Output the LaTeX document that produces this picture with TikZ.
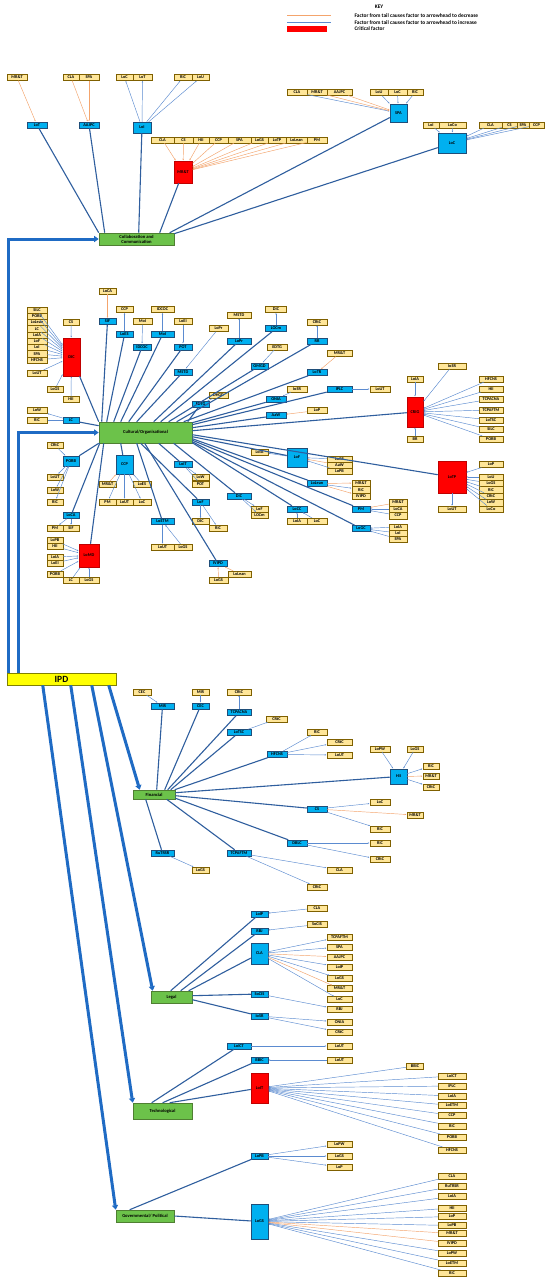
\documentclass[tikz,border=0pt]{standalone}
\usepackage{fontspec}
\setmainfont{Carlito}
\usetikzlibrary{arrows.meta}
\definecolor{tanf}{HTML}{FFE699}
\definecolor{tand}{HTML}{7F6000}
\definecolor{bluef}{HTML}{00B0F0}
\definecolor{blued}{HTML}{1F4E79}
\definecolor{redf}{HTML}{FF0000}
\definecolor{redd}{HTML}{C00000}
\definecolor{greenf}{HTML}{6CC24A}
\definecolor{greend}{HTML}{4F7F32}
\definecolor{ipdf}{HTML}{FFFF00}
\definecolor{ipdd}{HTML}{808000}
\definecolor{thk}{HTML}{2F5E9E}
\definecolor{thn}{HTML}{5B8BD0}
\definecolor{orn}{HTML}{F4A46C}
\definecolor{ipdl}{HTML}{1F6BC4}
\newcommand\tf{\fontsize{4.3}{4.5}\selectfont\bfseries}
\newcommand\gf{\fontsize{4.6}{5}\selectfont\bfseries}
\newcommand\kf{\fontsize{5.4}{6}\selectfont\bfseries}
\newcommand\mkT[5]{\node[tanb,minimum width=#4pt] (#1) at (#2,#3) {#5};}
\newcommand\mkB[5]{\node[blueb,minimum width=#4pt] (#1) at (#2,#3) {#5};}
\newcommand\mkBB[6]{\node[blueb,minimum width=#4pt,minimum height=#5pt] (#1) at (#2,#3) {#6};}
\newcommand\mkR[6]{\node[redb,minimum width=#4pt,minimum height=#5pt] (#1) at (#2,#3) {#6};}
\newcommand\cnb[2]{\draw[bll] (#1) -- (#2);}
\newcommand\cno[2]{\draw[orl] (#1) -- (#2);}
\tikzset{
  tanb/.style={draw=tand, fill=tanf, line width=0.5pt, minimum height=5.6pt, inner sep=0pt, font=\tf},
  blueb/.style={draw=blued, fill=bluef, line width=0.5pt, minimum height=6pt, inner sep=0pt, font=\tf},
  redb/.style={draw=redd, fill=redf, line width=0.5pt, inner sep=0pt, font=\tf},
  grp/.style={draw=greend, fill=greenf, line width=0.6pt, inner sep=0pt, font=\gf, align=center},
  bll/.style={draw=thn, line width=0.45pt, -{Stealth[length=1.6pt,width=1.3pt]}, shorten >=0.4pt},
  orl/.style={draw=orn, line width=0.45pt, -{Stealth[length=1.6pt,width=1.3pt]}, shorten >=0.4pt},
  thkl/.style={draw=thk, line width=1.1pt},
  ipa/.style={draw=ipdl, line width=3pt, -{Triangle[length=4.5pt,width=6pt]}},
}
\begin{document}
\begin{tikzpicture}[x=1pt,y=-1pt]
\useasboundingbox (0,0) rectangle (550,1282);
\fill[white] (0,0) rectangle (550,1282);

% ---------------- KEY
\node[font=\kf] (key) at (379,7) {KEY};
\coordinate (ko1) at (287,15); \coordinate (ko2) at (331,15);
\coordinate (kb1) at (287,22); \coordinate (kb2) at (331,22);
\draw[draw=orn, line width=0.8pt] (ko1) -- (ko2);
\draw[draw=thn, line width=0.8pt] (kb1) -- (kb2);
\fill[redf] (287,26) rectangle (327,32);
\node[anchor=west, font=\kf] (kt1) at (351,15.5) {Factor from tail causes factor to arrowhead to decrease};
\node[anchor=west, font=\kf] (kt2) at (351,22.5) {Factor from tail causes factor to arrowhead to increase};
\node[anchor=west, font=\kf] (kt3) at (351,29) {Critical factor};

% ---------------- Collaboration and Communication
\mkT{aMRT}{17}{77.5}{20}{MR\&T}
\mkT{aCLA}{71}{77.5}{16}{CLA}
\mkT{aSPA}{89}{77.5}{20}{SPA}
\mkT{aLoC}{124.5}{77.5}{17}{LoC}
\mkT{aLoT}{142.5}{77.5}{19}{LoT}
\mkT{aRiC}{183}{77.5}{18}{RiC}
\mkT{aLoU}{200.5}{77.5}{17}{LoU}
\mkB{bLoT}{37}{125}{20}{LoT}
\mkB{bAAJPC}{89}{125}{20}{AAJPC}
\mkBB{bLoI}{142}{127.5}{18}{11}{LoI}
\foreach \n/\x/\w/\t in {r1/162.5/23/CLA, r2/183.5/19/CS, r3/201/16/HII, r4/218.5/19/CCP, r5/239.5/23/SPA, r6/259.5/17/LoGS, r7/277/18/LoTP, r8/296.5/21/LoLean, r9/317/20/PM} {\mkT{\n}{\x}{140}{\w}{\t}}
\mkR{rMRT}{183}{172}{18}{22}{MR\&T}
\node[grp, minimum width=75pt, minimum height=12pt] (cc) at (136.5,239) {Collaboration and\\Communication};
\mkT{sCLA}{297}{92.5}{20}{CLA}
\mkT{sMRT}{317}{92.5}{20}{MR\&T}
\mkT{sAAJPC}{339.5}{92.5}{25}{AAJPC}
\mkT{sLoU}{379}{92.5}{18}{LoU}
\mkT{sLoC}{397.5}{92.5}{19}{LoC}
\mkT{sRiC}{415}{92.5}{16}{RiC}
\mkBB{bSPA}{398.5}{113}{17}{18}{SPA}
\mkT{kLoI}{431}{125}{16}{LoI}
\mkT{kLoCo}{452.5}{125}{27}{LoCo}
\mkT{kCLA}{490.5}{125}{23}{CLA}
\mkT{kCS}{509.5}{125}{15}{CS}
\mkT{kSPA}{523}{125}{12}{SPA}
\mkT{kCCP}{536.5}{125}{15}{CCP}
\mkBB{bLoC}{452}{143}{28}{20}{LoC}

\cno{aMRT}{bLoT} \cno{aCLA}{bAAJPC} \cno{aSPA}{bAAJPC}
\foreach \t in {aLoC,aLoT,aRiC,aLoU} {\cnb{bLoI}{\t}}
\foreach \t in {r1,r2,r3,r4,r5,r6,r7,r8,r9} {\cno{\t}{rMRT}}
\cnb{sCLA}{bSPA} \cno{sMRT}{bSPA} \cno{sAAJPC}{bSPA}
\cnb{sLoU}{bSPA} \cnb{sLoC}{bSPA} \cnb{sRiC}{bSPA}
\foreach \t in {kLoI,kLoCo,kCLA,kCS,kSPA,kCCP} {\cnb{\t}{bLoC}}
\foreach \t/\d in {bLoT/0, bAAJPC/6, bLoI/40, rMRT/61, bSPA/71} {\draw[thkl] ([xshift=\d pt]cc.north west) -- (\t);}
\draw[thkl] ([yshift=-1pt]cc.north east) -- (bLoC);

% ---------------- Cultural/Organisational
\node[grp, minimum width=93pt, minimum height=21pt] (cult) at (145.5,432.5) {Cultural/Organisational};
\foreach \n/\y/\t in {ls1/310.1/SILC, ls2/316.3/PORB, ls3/322.6/LoLean, ls4/328.8/LC, ls5/335.0/LoIA, ls6/341.2/LoF, ls7/347.4/LoI, ls8/353.7/SPA, ls9/359.9/HFCNS} {\node[tanb,minimum width=20pt,minimum height=6.2pt] (\n) at (37,\y) {\t};}
\mkT{cLoUT}{37}{373}{20}{LoUT}
\mkT{cCS}{71}{322}{16}{CS}
\mkR{rDIC}{71.5}{357}{17}{38}{DIC}
\mkT{cLoGS}{55}{389}{16}{LoGS}
\mkT{cHII}{71}{399.5}{16}{HII}
\mkT{cLoW}{37}{410.5}{20}{LoW}
\mkT{cRiC}{37}{420.5}{20}{RiC}
\mkB{bLC}{71}{420.5}{16}{LC}
\mkT{cLoCA}{107.5}{291}{17}{LoCA}
\mkB{bSIF}{107.5}{321.5}{17}{SIF}
\mkT{cCCP}{124.5}{309.5}{17}{CCP}
\mkB{bLoES}{124.5}{334.5}{17}{LoES}
\mkT{cMoI}{142.5}{321.5}{19}{MoI}
\mkB{bIDCOC}{142}{347}{18}{IDCOC}
\mkT{cIDCOC}{162.5}{309.5}{23}{IDCOC}
\mkB{bMoI}{162.5}{334.5}{23}{MoI}
\mkT{cLoEI}{183}{321.5}{18}{LoEI}
\mkB{bPOT}{183}{347}{18}{POT}
\mkT{cLoPr}{218.5}{328.5}{19}{LoPr}
\mkB{bMSTD}{183}{372}{18}{MSTD}
\mkT{cMSTD}{239}{315}{24}{MSTD}
\mkB{bLoPr}{239}{341}{24}{LoPr}
\mkT{cDIC}{276}{309.5}{21}{DIC}
\mkB{bLOCm}{276}{328.5}{21}{LOCm}
\mkT{cEDTG}{277}{347}{20}{EDTG}
\mkB{bOMGD}{259.5}{366}{17}{OMGD}
\mkT{cCRtC}{317}{322}{20}{CRtC}
\mkB{bRR}{317}{341}{20}{RR}
\mkT{cMRT}{339.5}{353.5}{25}{MR\&T}
\mkB{bLoTR}{317}{372.5}{20}{LoTR}
\mkT{cDHGD}{218.5}{395.5}{19}{DHGD}
\mkB{bEDTG}{200.5}{404.5}{17}{EDTG}
\mkT{cIoSR}{297}{389}{20}{IoSR}
\mkB{bONIA}{276}{399.5}{20}{ONIA}
\mkB{bIPLC}{339.5}{389}{25}{IPLC}
\mkT{cLoUTb}{380}{389}{20}{LoUT}
\mkB{bAaW}{276}{415.5}{20}{AaW}
\mkT{cLoP}{317}{410.5}{20}{LoP}
\mkR{rCRIG}{415}{412}{16}{30}{CRIG}
\mkT{cLoIA}{415}{379}{16}{LoIA}
\mkT{cIoSRb}{452}{366}{28}{IoSR}
\mkT{cBR}{415}{439.5}{16}{BR}
\foreach \n/\y/\t in {g1/379/HFCNS, g2/389/HII, g3/399/TCPACNA, g4/410/TCPAFTM, g5/420/LoTSC, g6/429.5/SILC, g7/439/PORB} {\mkT{\n}{491}{\y}{24}{\t}}
\mkR{rLoTP}{452}{477}{28}{32}{LoTP}
\mkT{cLoP2}{491}{464.5}{24}{LoP}
\foreach \n/\y/\t in {h1/477/LoU, h2/483.4/LoGS, h3/489.8/RiC, h4/496.2/CRtC, h5/502.6/LoW, h6/509/LoCo} {\node[tanb,minimum width=24pt,minimum height=6.4pt] (\n) at (491,\y) {\t};}
\mkT{cLoUT3}{452}{509}{28}{LoUT}
\mkBB{bLoF}{297}{457.5}{20}{19}{LoF}
\foreach \n/\y/\t in {f1/459/LoGS, f2/465/AaW, f3/471/LoPB} {\node[tanb,minimum width=25pt,minimum height=6pt] (\n) at (339.5,\y) {\t};}
\mkT{cLoIA2}{259.5}{452}{17}{LoIA}
\mkB{bLoLean}{317}{483.5}{20}{LoLean}
\foreach \n/\y/\t in {e1/483/MR\&T, e2/489.5/RiC, e3/496/IVIPD} {\node[tanb,minimum width=18pt,minimum height=6.5pt] (\n) at (361,\y) {\t};}
\mkB{bPM}{361}{509}{18}{PM}
\foreach \n/\y/\t in {p1/502.5/MR\&T, p2/509/LoCA, p3/515.5/CCP} {\node[tanb,minimum width=18pt,minimum height=6.5pt] (\n) at (398,\y) {\t};}
\mkB{bLoGC}{361}{528.5}{18}{LoGC}
\foreach \n/\y/\t in {q1/527/LoIA, q2/533/LoI, q3/539/SPA} {\node[tanb,minimum width=18pt,minimum height=6pt] (\n) at (398,\y) {\t};}
\mkB{bLoCC}{297}{509}{20}{LoCC}
\mkT{cLoIA4}{297}{521}{20}{LoIA}
\mkT{cLoC4}{317}{521}{20}{LoC}
% lower-left
\mkT{cCRtC2}{55}{445.5}{16}{CRtC}
\mkBB{bPORB}{71}{461}{16}{10}{PORB}
\mkT{cLoUT2}{55}{477}{16}{LoUT}
\mkT{cLoW2}{55}{490}{16}{LoW}
\mkT{cRiC2}{55}{502}{16}{RiC}
\mkB{bLoCA}{71}{515.5}{16}{LoCA}
\mkT{cPM}{55}{528}{16}{PM}
\mkT{cSIF}{71}{528}{16}{SIF}
\mkR{rLoMD}{89}{555.5}{20}{23}{LoMD}
\foreach \n/\y/\t in {m1/540.5/LoPB, m2/546.5/HII, m3/557/LoIA, m4/563/LoEI, m5/574/PORB} {\node[tanb,minimum width=16pt,minimum height=6pt] (\n) at (55,\y) {\t};}
\mkT{cLC}{71}{580}{16}{LC}
\mkT{cLoGS3}{89}{580}{20}{LoGS}
\mkBB{bCCP}{124.5}{464.5}{17}{19}{CCP}
\mkT{cMRT3}{107.5}{484}{17}{MR\&T}
\mkT{cLoES}{142}{484}{18}{LoES}
\mkT{cPM2}{107.5}{502}{17}{PM}
\mkT{cLoUT4}{124.5}{502}{17}{LoUT}
\mkT{cLoC2}{142}{502}{18}{LoC}
\mkB{bLoIT}{183}{464.5}{18}{LoIT}
\mkT{cLoW3}{200.5}{477.5}{17}{LoW}
\mkT{cPOT}{200.5}{484}{17}{POT}
\mkB{bLoF2}{200.5}{502}{17}{LoF}
\mkT{cDIC2}{200.5}{521.5}{17}{DIC}
\mkT{cRiC5}{218}{528}{18}{RiC}
\mkB{bDIC}{239}{496}{24}{DIC}
\mkT{cLoF5}{259.5}{509}{17}{LoF}
\mkT{cLOCm}{259.5}{515.2}{17}{LOCm}
\mkB{bLoETM}{162.5}{521.5}{23}{LoETM}
\mkT{cLoUT6}{162.5}{547}{23}{LoUT}
\mkT{cLoGS6}{183}{547}{18}{LoGS}
\mkB{bIVIPD}{218}{563.5}{18}{IVIPD}
\mkT{cLoGS7}{218.5}{580}{19}{LoGS}
\mkT{cLoLean}{239.5}{574}{23}{LoLean}

\foreach \t in {ls1,ls2,ls3,ls4,ls5,ls6,ls7,ls8,ls9,cLoUT,cCS,cLoGS,cHII} {\cnb{\t}{rDIC}}
\cnb{bLC}{cLoW} \cnb{bLC}{cRiC}
\cno{cLoCA}{bSIF} \cnb{bLoES}{cCCP} \cnb{cMoI}{bIDCOC} \cnb{bMoI}{cIDCOC}
\cnb{cLoEI}{bPOT} \cnb{cLoPr}{bMSTD} \cnb{bLoPr}{cMSTD} \cnb{bLOCm}{cDIC}
\cnb{cEDTG}{bOMGD} \cnb{bRR}{cCRtC} \cno{cMRT}{bLoTR} \cnb{cDHGD}{bEDTG}
\cnb{cIoSR}{bONIA} \cnb{bIPLC}{cLoUTb} \cno{cLoP}{bAaW}
\foreach \t in {cLoIA,cIoSRb,cBR,g1,g2,g3,g4,g5,g6,g7} {\cnb{\t}{rCRIG}}
\foreach \t in {cLoP2,h1,h2,h3,h4,h5,h6} {\cnb{\t}{rLoTP}}
\cnb{rLoTP}{cLoUT3}
\cnb{f1}{bLoF} \cno{f2}{bLoF} \cnb{f3}{bLoF} \cnb{bLoF}{cLoIA2}
\cno{bLoLean}{e1} \cnb{bLoLean}{e2} \cno{bLoLean}{e3}
\cno{p1}{bPM} \cnb{p2}{bPM} \cnb{p3}{bPM}
\foreach \t in {q1,q2,q3} {\cnb{\t}{bLoGC}}
\cnb{cLoIA4}{bLoCC} \cnb{cLoC4}{bLoCC}
\cnb{cCRtC2}{bPORB} \cnb{bPORB}{cLoUT2} \cnb{bPORB}{cLoW2} \cnb{bPORB}{cRiC2}
\cnb{bLoCA}{cPM} \cnb{bLoCA}{cSIF}
\foreach \t in {m1,m2,m3,m4,m5,cLC,cLoGS3} {\cnb{\t}{rLoMD}}
\cno{cMRT3}{bCCP} \cnb{cLoES}{bCCP}
\cnb{bCCP}{cPM2} \cnb{bCCP}{cLoUT4} \cnb{bCCP}{cLoC2}
\cnb{bLoIT}{cLoW3} \cnb{bLoIT}{cPOT}
\cnb{bLoF2}{cDIC2} \cnb{bLoF2}{cRiC5}
\cnb{bDIC}{cLoF5} \cnb{bDIC}{cLOCm}
\cnb{bLoETM}{cLoUT6} \cnb{cLoGS6}{bLoETM}
\cno{cLoGS7}{bIVIPD} \cno{cLoLean}{bIVIPD}
\foreach \t/\d in {rDIC/0, bSIF/3, bLoES/8, bIDCOC/15, bMoI/22, bPOT/30, bMSTD/38, bLoPr/55, bLOCm/62, bOMGD/70, bRR/78, bLoTR/85, bEDTG/89} {\draw[thkl] ([xshift=\d pt]cult.north west) -- (\t);}
\foreach \t/\d in {bONIA/1, bIPLC/3, bAaW/6, rCRIG/9, rLoTP/13, bLoF/15, bLoLean/17, bPM/18.5, bLoGC/20, bLoCC/21} {\draw[thkl] ([yshift=-\d pt]cult.north east) -- (\t);}
\foreach \t/\d in {bPORB/0, bLoCA/1, rLoMD/5, bCCP/22, bLoETM/38, bLoF2/42, bIVIPD/46, bLoIT/60, bDIC/75} {\draw[thkl] ([xshift=\d pt]cult.south west) -- (\t);}
\draw[thkl] ([yshift=-4pt]cult.north west) -- (bLC);

% ---------------- IPD
\node[draw=ipdd, fill=ipdf, line width=0.5pt, minimum width=109pt, minimum height=12pt, inner sep=0pt, font=\fontsize{9.5}{10}\selectfont\bfseries] (ipd) at (61.5,679) {IPD};

% ---------------- Financial
\node[grp, minimum width=42pt, minimum height=9pt] (fin) at (154,794.5) {Financial};
\mkT{fCEC}{142}{692}{18}{CEC}
\mkT{fMIR}{200.5}{692}{17}{MIR}
\mkT{fCRtC}{239}{692}{24}{CRtC}
\mkB{bMIR}{162.5}{706}{23}{MIR}
\mkB{bCEC}{200.5}{706}{17}{CEC}
\mkB{bTCPACNA}{239}{712.5}{24}{TCPACNA}
\mkT{fCRtC2}{276.5}{719}{21}{CRtC}
\mkB{bLoTSC}{239}{732.5}{24}{LoTSC}
\mkB{bHFCNS}{277}{754.5}{20}{HFCNS}
\mkT{fRiC}{317}{732}{20}{RiC}
\mkT{fCRtC3}{339.5}{742}{25}{CRtC}
\mkT{fLoUT}{339.5}{755}{25}{LoUT}
\mkT{fLoPW}{380}{749}{20}{LoPW}
\mkT{fLoGS}{415}{749}{16}{LoGS}
\mkBB{bHII}{398.5}{776.5}{17}{15}{HII}
\mkT{fRiC2}{431}{766}{16}{RiC}
\mkT{fMRT}{431}{776}{16}{MR\&T}
\mkT{fCRtC4}{431}{787}{16}{CRtC}
\mkB{bCS}{317}{809}{20}{CS}
\mkT{fLoC}{380}{802.5}{20}{LoC}
\mkT{fMRT2}{415}{815}{16}{MR\&T}
\mkT{fRiC3}{380}{829}{20}{RiC}
\mkB{bDBLC}{297}{843}{20}{DBLC}
\mkT{fRiC4}{380}{843}{20}{RiC}
\mkT{fCRtC5}{380}{859.5}{20}{CRtC}
\mkB{bTCPAFTM}{239}{853}{24}{TCPAFTM}
\mkT{fCLA}{339.5}{870}{25}{CLA}
\mkT{fCRtC6}{317}{887}{20}{CRtC}
\mkB{bRuTRSR}{162.5}{853}{23}{RuTRSR}
\mkT{fLoGS2}{200.5}{870}{17}{LoGS}

\cnb{fCEC}{bMIR} \cnb{fMIR}{bCEC} \cnb{bTCPACNA}{fCRtC} \cnb{bLoTSC}{fCRtC2}
\cnb{bHFCNS}{fRiC} \cnb{bHFCNS}{fCRtC3} \cnb{bHFCNS}{fLoUT}
\cnb{fLoPW}{bHII} \cnb{fLoGS}{bHII}
\cnb{bHII}{fRiC2} \cno{bHII}{fMRT} \cnb{bHII}{fCRtC4}
\cnb{bCS}{fLoC} \cno{bCS}{fMRT2} \cnb{bCS}{fRiC3}
\cnb{bDBLC}{fRiC4} \cnb{bDBLC}{fCRtC5}
\cnb{bTCPAFTM}{fCLA} \cnb{bTCPAFTM}{fCRtC6}
\cnb{bRuTRSR}{fLoGS2}
\foreach \t/\d in {bMIR/24, bCEC/32, bTCPACNA/35, bLoTSC/38, bHFCNS/42} {\draw[thkl] ([xshift=\d pt]fin.north west) -- (\t);}
\foreach \t/\d in {bHII/3, bCS/6, bDBLC/8.5} {\draw[thkl] ([yshift=-\d pt]fin.north east) -- (\t);}
\foreach \t/\d in {bRuTRSR/13, bTCPAFTM/34} {\draw[thkl] ([xshift=\d pt]fin.south west) -- (\t);}

% ---------------- Legal
\node[grp, minimum width=41pt, minimum height=12pt] (legal) at (171.5,997) {Legal};
\mkB{bLoIP}{259.5}{914}{17}{LoIP}
\mkT{lCLA}{317}{908}{20}{CLA}
\mkB{bRBJ}{259.5}{931}{17}{RBJ}
\mkT{lSoCIS}{317}{924.5}{20}{SoCIS}
\mkBB{bCLA}{259.5}{953.5}{17}{21}{CLA}
\foreach \n/\y/\t in {l1/937/TCPAFTM, l2/947/SPA, l3/957/AAJPC, l4/967/LoIP, l5/978.5/LoGS, l6/988.5/MR\&T, l7/999.5/LoC, l8/1009.5/RBJ, l9/1022/ONIA, l10/1032/CRtC, l11/1046/LoUT, l12/1060/LoUT} {\mkT{\n}{339.5}{\y}{25}{\t}}
\mkB{bSoCIS}{259.5}{994}{17}{SoCIS}
\mkB{bIoSR}{259.5}{1016}{17}{IoSR}
\cnb{lCLA}{bLoIP} \cnb{lSoCIS}{bRBJ}
\cnb{bCLA}{l1} \cnb{bCLA}{l2} \cno{bCLA}{l3} \cnb{bCLA}{l4} \cnb{bCLA}{l5} \cno{bCLA}{l6} \cnb{bCLA}{l7}
\cnb{bSoCIS}{l8} \cnb{bIoSR}{l9} \cnb{bIoSR}{l10}
\foreach \t/\d in {bLoIP/20, bRBJ/30, bCLA/38} {\draw[thkl] ([xshift=\d pt]legal.north west) -- (\t);}
\foreach \t/\d in {bSoCIS/5, bIoSR/9} {\draw[thkl] ([yshift=-\d pt]legal.north east) -- (\t);}

% ---------------- Technological
\node[grp, minimum width=59pt, minimum height=16pt] (tech) at (162.5,1111) {Technological};
\mkB{bLoICT}{239}{1046}{24}{LoICT}
\mkB{bBBIC}{259.5}{1060}{17}{BBIC}
\mkR{rLoIT}{259.5}{1088}{17}{30}{LoIT}
\mkT{tBBIC}{415}{1066}{17}{BBIC}
\foreach \n/\y/\t in {t1/1076/LoICT, t2/1086/IPLC, t3/1096/LoIA, t4/1105.5/LoETM, t5/1115.5/CCP, t6/1126/RiC, t7/1137/PORB, t8/1150/HFCNS} {\mkT{\n}{452}{\y}{28}{\t}}
\cnb{bLoICT}{l11} \cnb{l12}{bBBIC}
\foreach \t in {tBBIC,t1,t2,t3,t4,t5,t6,t7,t8} {\cnb{\t}{rLoIT}}
\foreach \t/\d in {bLoICT/19, bBBIC/30, rLoIT/37} {\draw[thkl] ([xshift=\d pt]tech.north west) -- (\t);}

% ---------------- Governmental/Political
\node[grp, minimum width=58pt, minimum height=12pt] (gov) at (145,1216) {Governmental/ Political};
\mkB{bLoPB}{259.5}{1156}{17}{LoPB}
\mkT{gLoPW}{339.5}{1144}{25}{LoPW}
\mkT{gLoGS}{339.5}{1156}{25}{LoGS}
\mkT{gLoP}{339.5}{1167}{25}{LoP}
\mkBB{bLoGS}{259.5}{1221.5}{17}{35}{LoGS}
\foreach \n/\y/\t in {v1/1176/CLA, v2/1186.5/RuTRSR, v3/1196.5/LoIA, v4/1208/HII, v5/1216.5/LoP, v6/1225.5/LoPB, v7/1233.5/MR\&T, v8/1243/IVIPD, v9/1253/LoPW, v10/1263/LoETM, v11/1273/RiC} {\mkT{\n}{452}{\y}{28}{\t}}
\cnb{bLoPB}{gLoPW} \cnb{bLoPB}{gLoGS} \cnb{bLoPB}{gLoP}
\foreach \t in {v1,v2,v3,v4,v5,v6,v9,v10,v11} {\cnb{\t}{bLoGS}}
\cno{v7}{bLoGS} \cno{v8}{bLoGS}
\draw[thkl] ([xshift=14pt]gov.north west) -- (bLoPB);
\draw[thkl] (gov.east) -- (bLoGS);

% ---------------- IPD arrows
\draw[ipa] ([xshift=2pt]ipd.north west) |- (cc.west);
\draw[ipa] ([xshift=12pt]ipd.north west) |- (cult.west);
\draw[ipa] ([xshift=102pt]ipd.south west) -- ([xshift=7pt]fin.north west);
\draw[ipa] ([xshift=85pt]ipd.south west) -- ([xshift=2pt]legal.north west);
\draw[ipa] ([xshift=64pt]ipd.south west) -- (tech.north west);
\draw[ipa] ([xshift=36pt]ipd.south west) -- (gov.north west);
\end{tikzpicture}
\end{document}
